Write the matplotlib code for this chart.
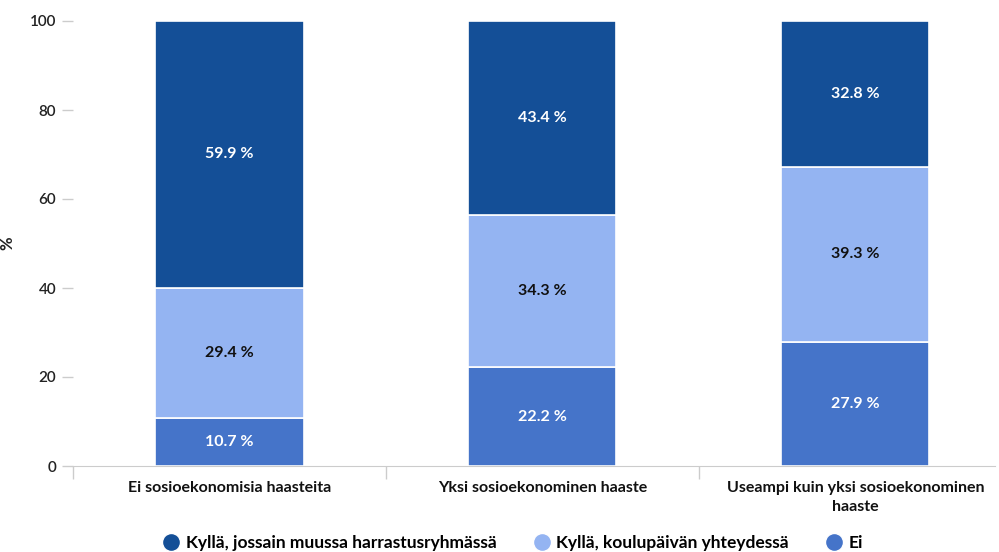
import matplotlib
matplotlib.use("Agg")
import matplotlib.pyplot as plt
from matplotlib.lines import Line2D
import numpy as np

categories = ["Ei sosioekonomisia haasteita", "Yksi sosioekonominen haaste",
              "Useampi kuin yksi sosioekonominen\nhaaste"]
series_names = ["Kyllä, jossain muussa harrastusryhmässä", "Kyllä, koulupäivän yhteydessä", "Ei"]
ei = [10.7, 22.2, 27.9]
koulu = [29.4, 34.3, 39.3]
muu = [59.9, 43.4, 32.8]
yticks = [0, 20, 40, 60, 80, 100]

colors = {"muu": "#144f97", "koulu": "#94b4f2", "ei": "#4574c9"}
txtcol = {"muu": "white", "koulu": "#111111", "ei": "white"}

plt.rcParams['font.family'] = ['Lato', 'DejaVu Sans']
fig = plt.figure(figsize=(9.99, 5.52), dpi=100)
ax = fig.add_axes([73/999, 86/552, 922/999, 445/552])

x = np.arange(len(categories))
w = 0.473
stack = [("ei", ei), ("koulu", koulu), ("muu", muu)]
bottom = np.zeros(len(categories))
for key, vals in stack:
    vals = np.array(vals)
    ax.bar(x, vals, w, bottom=bottom, color=colors[key], edgecolor="white", linewidth=1.2)
    for xi, b, v in zip(x, bottom, vals):
        ax.text(xi, b + v / 2, f"{v:.1f} %", ha="center", va="center",
                color=txtcol[key], fontsize=11.5, fontweight="bold")
    bottom += vals

ax.set_xlim(-0.5, 2.446)
ax.set_ylim(0, 100)
ax.set_yticks(yticks)
ax.set_yticklabels([str(t) for t in yticks], fontsize=11, color="#222222", fontweight="semibold")
ax.tick_params(axis="y", length=8, width=1, color="#cccccc", pad=4)
ax.set_xticks(x)
ax.set_xticklabels(categories, fontsize=11.5, fontweight="bold", color="#111111", va="top",
                   linespacing=1.45)
ax.tick_params(axis="x", length=0, pad=11)
ax.set_xticks([-0.5, 0.5, 1.5], minor=True)
ax.tick_params(axis="x", which="minor", length=9, color="#cccccc", width=1)
for s in ["top", "right", "left"]:
    ax.spines[s].set_visible(False)
ax.spines["bottom"].set_color("#cccccc")
ax.set_ylabel("%", fontsize=12, fontweight="bold", color="#222222")
ax.yaxis.set_label_coords((15 - 73) / 922, 0.5)

handles = [Line2D([0], [0], marker="o", color="w", markerfacecolor=colors[k], markersize=13, linestyle="")
           for k in ["muu", "koulu", "ei"]]
fig.legend(handles, series_names, loc="center", bbox_to_anchor=(512/999, 1 - 543/552), ncol=3,
           frameon=False, handletextpad=0.25, columnspacing=2.0, handlelength=1.2,
           prop={"weight": "bold", "size": 12.5})

fig.savefig("out.png", dpi=100)
